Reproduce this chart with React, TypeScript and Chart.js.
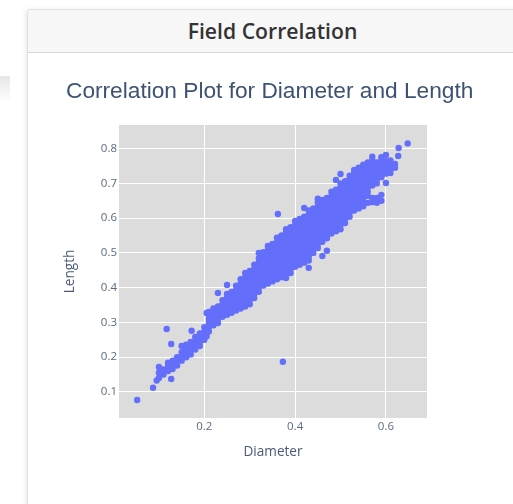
import React, { useEffect, useRef } from "react";
import { Chart, registerables } from "chart.js";

Chart.register(...registerables);

const cardTitle = "Field Correlation";
const plotTitle = "Correlation Plot for Diameter and Length";
const xLabel = "Diameter";
const yLabel = "Length";

const columnDiameters = [
  0.052, 0.087, 0.095, 0.1, 0.11, 0.12, 0.13, 0.14, 0.15, 0.16, 0.17, 0.18, 0.19, 0.2, 0.205, 0.21, 0.22,
  0.23, 0.24, 0.25, 0.26, 0.27, 0.28, 0.29, 0.3, 0.31, 0.32, 0.33, 0.34, 0.35, 0.36, 0.37, 0.38, 0.39, 0.4, 0.41, 0.42,
  0.43, 0.44, 0.45, 0.46, 0.47, 0.48, 0.49, 0.5, 0.51, 0.52, 0.53, 0.54, 0.55, 0.56, 0.57, 0.58, 0.59, 0.6, 0.61, 0.62,
];
const columnLengths = [
  [0.077],
  [0.112],
  [0.133],
  [0.14, 0.155, 0.172],
  [0.15, 0.165],
  [0.16, 0.172, 0.184],
  [0.166, 0.178, 0.19],
  [0.176, 0.188, 0.2],
  [0.19, 0.202, 0.214, 0.232],
  [0.2, 0.212, 0.224, 0.236],
  [0.208, 0.22, 0.232, 0.244],
  [0.222, 0.234, 0.246, 0.258],
  [0.232, 0.244, 0.256, 0.268],
  [0.25, 0.262, 0.274, 0.286],
  [0.26, 0.28, 0.327],
  [0.274, 0.286, 0.298, 0.31, 0.322, 0.33],
  [0.292, 0.304, 0.316, 0.328, 0.34],
  [0.298, 0.31, 0.322, 0.334, 0.346, 0.385],
  [0.316, 0.328, 0.34, 0.352, 0.364],
  [0.322, 0.334, 0.346, 0.358, 0.37, 0.382, 0.408],
  [0.328, 0.34, 0.352, 0.364, 0.376, 0.388],
  [0.334, 0.346, 0.358, 0.37, 0.382, 0.394, 0.406],
  [0.34, 0.352, 0.364, 0.376, 0.388, 0.4, 0.412, 0.424],
  [0.346, 0.358, 0.37, 0.382, 0.394, 0.406, 0.418, 0.43, 0.442],
  [0.352, 0.364, 0.376, 0.388, 0.4, 0.412, 0.424, 0.436, 0.448],
  [0.37, 0.382, 0.394, 0.406, 0.418, 0.43, 0.442, 0.454, 0.466],
  [0.388, 0.4, 0.412, 0.424, 0.436, 0.448, 0.46, 0.472, 0.484, 0.5],
  [0.406, 0.418, 0.43, 0.442, 0.454, 0.466, 0.478, 0.49, 0.502],
  [0.412, 0.424, 0.436, 0.448, 0.46, 0.472, 0.484, 0.496, 0.508, 0.52],
  [0.418, 0.43, 0.442, 0.454, 0.466, 0.478, 0.49, 0.502, 0.514, 0.526],
  [0.424, 0.436, 0.448, 0.46, 0.472, 0.484, 0.496, 0.508, 0.52, 0.532, 0.544],
  [0.43, 0.442, 0.454, 0.466, 0.478, 0.49, 0.502, 0.514, 0.526, 0.538, 0.55],
  [0.428, 0.44, 0.452, 0.464, 0.476, 0.488, 0.5, 0.512, 0.524, 0.536, 0.548, 0.56, 0.568],
  [0.442, 0.454, 0.466, 0.478, 0.49, 0.502, 0.514, 0.526, 0.538, 0.55, 0.562, 0.574],
  [0.46, 0.472, 0.484, 0.496, 0.508, 0.52, 0.532, 0.544, 0.556, 0.568, 0.58, 0.592],
  [0.466, 0.478, 0.49, 0.502, 0.514, 0.526, 0.538, 0.55, 0.562, 0.574, 0.586, 0.598],
  [0.472, 0.484, 0.496, 0.508, 0.52, 0.532, 0.544, 0.556, 0.568, 0.58, 0.592, 0.604, 0.629],
  [0.457, 0.478, 0.49, 0.502, 0.514, 0.526, 0.538, 0.55, 0.562, 0.574, 0.586, 0.598, 0.61, 0.622],
  [0.5, 0.512, 0.524, 0.536, 0.548, 0.56, 0.572, 0.584, 0.596, 0.608, 0.62, 0.628],
  [0.514, 0.526, 0.538, 0.55, 0.562, 0.574, 0.586, 0.598, 0.61, 0.622, 0.634, 0.646, 0.656],
  [0.491, 0.532, 0.544, 0.556, 0.568, 0.58, 0.592, 0.604, 0.616, 0.628, 0.64, 0.652],
  [0.506, 0.542, 0.55, 0.562, 0.574, 0.586, 0.598, 0.61, 0.622, 0.634, 0.646, 0.658],
  [0.556, 0.568, 0.58, 0.592, 0.604, 0.616, 0.628, 0.64, 0.652, 0.664, 0.676],
  [0.562, 0.574, 0.586, 0.598, 0.61, 0.622, 0.634, 0.646, 0.658, 0.67, 0.682, 0.71],
  [0.568, 0.58, 0.592, 0.604, 0.616, 0.628, 0.64, 0.652, 0.664, 0.676, 0.688, 0.7, 0.727],
  [0.586, 0.598, 0.61, 0.622, 0.634, 0.646, 0.658, 0.67, 0.682, 0.694, 0.706],
  [0.604, 0.616, 0.628, 0.64, 0.652, 0.664, 0.676, 0.688, 0.7, 0.712, 0.722],
  [0.622, 0.634, 0.646, 0.658, 0.67, 0.682, 0.694, 0.706, 0.718, 0.73, 0.739],
  [0.628, 0.64, 0.652, 0.664, 0.676, 0.688, 0.7, 0.712, 0.724, 0.736, 0.745],
  [0.634, 0.646, 0.658, 0.67, 0.682, 0.694, 0.706, 0.718, 0.73, 0.742, 0.754],
  [0.644, 0.664, 0.676, 0.688, 0.7, 0.712, 0.724, 0.736, 0.748, 0.76],
  [0.646, 0.658, 0.694, 0.706, 0.718, 0.73, 0.742, 0.754, 0.766, 0.777],
  [0.644, 0.658, 0.7, 0.712, 0.724, 0.736, 0.748, 0.76],
  [0.65, 0.667, 0.718, 0.73, 0.742, 0.754, 0.766, 0.775],
  [0.701, 0.728, 0.74, 0.752, 0.764, 0.782],
  [0.73, 0.742, 0.754, 0.766],
  [0.745, 0.756],
];
const outlierDiameters = [0.117, 0.172, 0.127, 0.127, 0.373, 0.362, 0.627, 0.628, 0.648];
const outlierLengths = [0.281, 0.276, 0.238, 0.137, 0.187, 0.612, 0.779, 0.802, 0.815];

const xTicks = [0.2, 0.4, 0.6];
const yTicks = [0.1, 0.2, 0.3, 0.4, 0.5, 0.6, 0.7, 0.8];

const scatterPoints = [
  ...columnDiameters.flatMap((d, i) => columnLengths[i].map((l) => ({ x: d, y: l }))),
  ...outlierDiameters.map((d, i) => ({ x: d, y: outlierLengths[i] })),
];

const plotBackground = {
  id: "plotBackground",
  beforeDraw(chart: any) {
    const { ctx, chartArea: a } = chart;
    ctx.save();
    ctx.fillStyle = "#dcdcdc";
    ctx.fillRect(a.left, a.top, a.right - a.left, a.bottom - a.top);
    ctx.restore();
  },
};

export default function App() {
  const ref = useRef<HTMLCanvasElement>(null);
  useEffect(() => {
    const tickFont = { family: "'Open Sans', sans-serif", size: 11.5 };
    const titleFont = { family: "'Open Sans', sans-serif", size: 13.6 };
    const chart = new Chart(ref.current!, {
      type: "scatter",
      data: {
        datasets: [
          {
            label: yLabel,
            data: scatterPoints,
            backgroundColor: "#636efa",
            borderColor: "#636efa",
            pointRadius: 3.2,
            borderWidth: 0,
          },
        ],
      },
      plugins: [plotBackground],
      options: {
        responsive: false,
        animation: false,
        layout: { padding: { left: 39, right: 86, top: 72, bottom: 0 } },
        plugins: {
          legend: { display: false },
          tooltip: { enabled: false },
          title: { display: false },
        },
        scales: {
          x: {
            type: "linear",
            min: 0.012,
            max: 0.6905,
            afterFit: (s: any) => {
              s.height = 86;
            },
            afterBuildTicks: (s: any) => {
              s.ticks = xTicks.map((value) => ({ value }));
            },
            grid: { color: "#ffffff", lineWidth: 1, drawTicks: false },
            border: { display: false },
            ticks: { color: "#5a6b85", font: tickFont, padding: 2, maxRotation: 0, callback: (v: any) => Number(v).toFixed(1) },
            title: { display: true, text: xLabel, color: "#4a5a78", font: titleFont, padding: { top: 0, bottom: 44 } },
          },
          y: {
            type: "linear",
            min: 0.025,
            max: 0.868,
            afterFit: (s: any) => {
              s.width = 53;
            },
            afterBuildTicks: (s: any) => {
              s.ticks = yTicks.map((value) => ({ value }));
            },
            grid: { color: "#ffffff", lineWidth: 1, drawTicks: false },
            border: { display: false },
            ticks: { color: "#5a6b85", font: tickFont, padding: 2, callback: (v: any) => Number(v).toFixed(1) },
            title: { display: true, text: yLabel, color: "#4a5a78", font: titleFont, padding: { top: -4, bottom: 0 } },
          },
        },
      },
    } as any);
    return () => chart.destroy();
  }, []);

  return (
    <div style={{ position: "fixed", left: 0, top: 0, width: 513, height: 504, overflow: "hidden", background: "#fff" }}>
      <div
        style={{
          position: "absolute",
          left: 0,
          top: 76,
          width: 10,
          height: 26,
          background: "linear-gradient(#e6e6e6, #ffffff)",
        }}
      />
      <div
        style={{
          position: "absolute",
          left: 27,
          top: 9,
          width: 520,
          height: 520,
          boxSizing: "border-box",
          border: "1px solid #e0e0e0",
          borderRadius: 4,
          boxShadow: "-2px 0 5px rgba(0,0,0,0.07)",
          background: "#fff",
        }}
      />
      <div
        style={{
          position: "absolute",
          left: 28,
          top: 10,
          width: 520,
          height: 43,
          boxSizing: "border-box",
          borderBottom: "1px solid #d8d8d8",
          borderTopLeftRadius: 4,
          background: "#f7f7f7",
        }}
      />
      <div
        style={{
          position: "absolute",
          left: 27,
          top: 10,
          width: 491,
          height: 42,
          lineHeight: "42px",
          textAlign: "center",
          fontFamily: "'Open Sans', sans-serif",
          fontWeight: 600,
          fontSize: 21.2,
          color: "#333",
        }}
      >
        {cardTitle}
      </div>
      <canvas ref={ref} width={486} height={451} style={{ position: "absolute", left: 27, top: 53, display: "block" }} />
      <div
        style={{
          position: "absolute",
          left: 66,
          top: 74,
          whiteSpace: "nowrap",
          lineHeight: "32px",
          fontFamily: "'Liberation Sans', Arial, sans-serif",
          fontSize: 22.7,
          color: "#3d5273",
        }}
      >
        {plotTitle}
      </div>
    </div>
  );
}
